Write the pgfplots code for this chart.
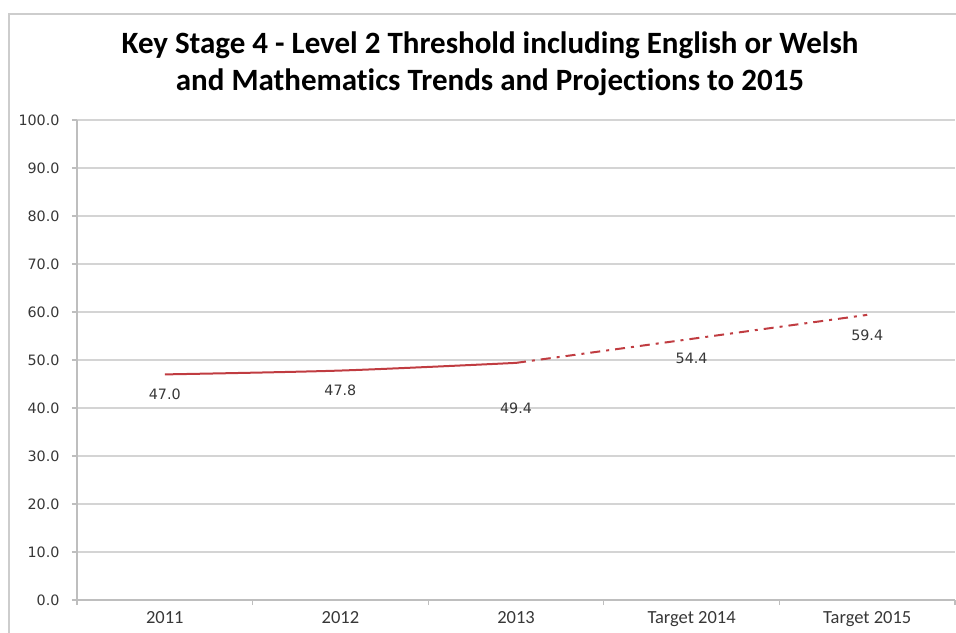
\documentclass[border=0pt]{standalone}
\usepackage{pgfplots}
\pgfplotsset{compat=1.18}
\usepackage{fontspec}
\setmainfont{Carlito}[Ligatures=NoCommon]
\newfontfamily\dejavu{DejaVu Sans}
\definecolor{exred}{RGB}{192,60,65}
\definecolor{gridgray}{RGB}{212,212,212}
\definecolor{axisgray}{RGB}{190,190,190}
\definecolor{framegray}{RGB}{205,205,205}
\definecolor{txt}{RGB}{55,55,55}
\begin{document}
\begin{tikzpicture}
\useasboundingbox (-77pt,-32pt) rectangle (879pt,600pt);
\draw[framegray, line width=2pt] (-68pt,-40pt) -- (-68pt,586pt) -- (900pt,586pt);
\begin{axis}[
  at={(0pt,0pt)}, anchor=south west,
  scale only axis, width=878pt, height=480pt,
  xmin=-0.5, xmax=4.5, ymin=0, ymax=100,
  xtick={-0.5,0.5,1.5,2.5,3.5,4.5},
  xticklabels={,,,,,},
  extra x ticks={0,1,2,3,4},
  extra x tick labels={2011,2012,2013,Target 2014,Target 2015},
  extra x tick style={major tick length=0pt, grid=none},
  ytick={0,10,...,100},
  ymajorgrids,
  grid style={gridgray, line width=1.3pt},
  axis lines=left,
  axis line style={axisgray, line width=1.3pt, -},
  tick align=outside,
  major tick length=5pt,
  tick style={axisgray, line width=1.3pt},
  /pgf/number format/assume math mode=true,
  yticklabel style={font=\dejavu\fontsize{14.3}{14}\selectfont, text=txt, xshift=-9pt,
    /pgf/number format/.cd, fixed, fixed zerofill, precision=1},
  xticklabel style={font=\fontsize{18.5}{18}\selectfont, text=txt, yshift=-8pt},
  clip=false,
]
\addplot[exred, line width=2pt, smooth] coordinates {(0,47.0) (1,47.8) (2,49.4)};
\addplot[exred, line width=2pt, dash pattern=on 10pt off 6pt on 3pt off 6pt] coordinates {(2,49.4) (3,54.4) (4,59.4)};
\addplot[draw=none, nodes near coords, point meta=explicit symbolic,
  nodes near coords style={anchor=center, yshift=-20pt, font=\dejavu\fontsize{14.3}{14}\selectfont, text=txt}]
  coordinates {(0,47.0)[47.0] (1,47.8)[47.8] (3,54.4)[54.4] (4,59.4)[59.4]};
\addplot[draw=none, nodes near coords, point meta=explicit symbolic,
  nodes near coords style={anchor=center, yshift=-45pt, font=\dejavu\fontsize{14.3}{14}\selectfont, text=txt}]
  coordinates {(2,49.4)[49.4]};
\end{axis}
\node[align=center, font=\bfseries\fontsize{31}{37}\selectfont] at (413pt,536.5pt)
  {Key Stage 4 - Level 2 Threshold including English or Welsh\\and Mathematics Trends and Projections to 2015};
\end{tikzpicture}
\end{document}
